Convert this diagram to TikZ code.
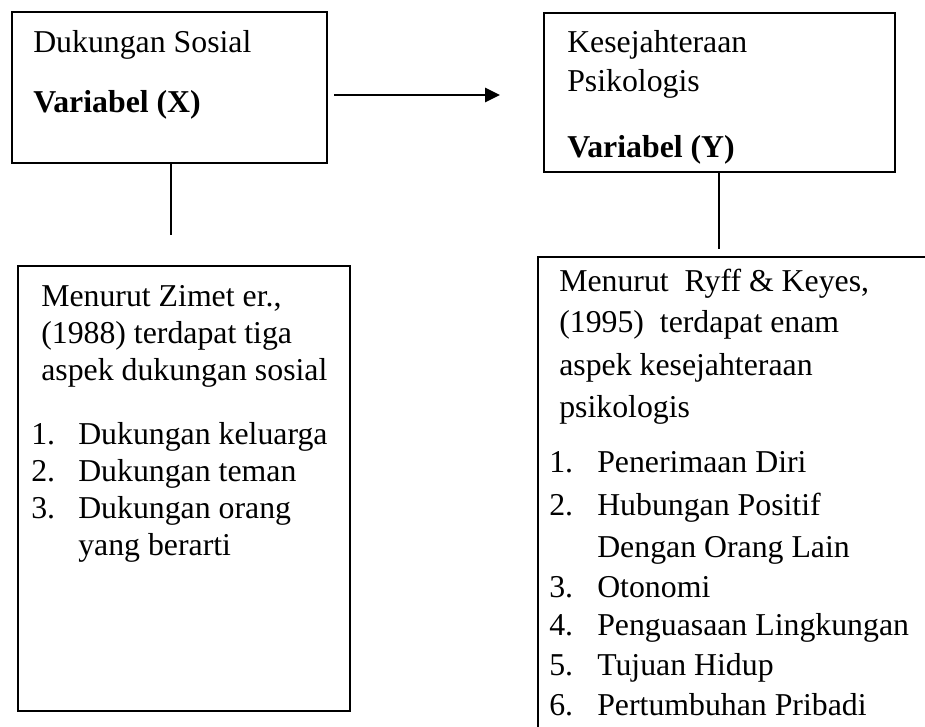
\documentclass[tikz,border=0pt]{standalone}
\usepackage{fontspec}
\setmainfont{Liberation Serif}
\usetikzlibrary{arrows.meta}
\begin{document}
\begin{tikzpicture}[x=0.75pt,y=-0.75pt,
  font=\fontsize{23.85}{28}\selectfont,
  box/.style={draw, line width=1.1pt, rectangle, inner sep=0pt},
  txt/.style={anchor=base west, inner sep=0pt},
  link/.style={line width=1.1pt},
  arr/.style={line width=2pt, -{Triangle[length=11.25pt,width=10.5pt]}}]
\useasboundingbox (0,0) rectangle (925,727);
\clip (0,0) rectangle (925,727);
\fill[white] (0,0) rectangle (925,727);

% boxes
\node[box, minimum width=236.25pt, minimum height=113.25pt] (b1) at (169.5,87.5) {};
\node[box, minimum width=263.25pt, minimum height=119.25pt] (b2) at (719.5,92.5) {};
\node[box, minimum width=249pt, minimum height=333.75pt] (b3) at (184,488.5) {};
\node[box, minimum width=305.25pt, minimum height=366pt] (b4) at (741.5,501) {};

% connectors
\coordinate (e1) at (171,235);
\coordinate (e2) at (719,249);
\draw[link] (e1 |- b1.south) -- (e1);
\draw[link] (e2 |- b2.south) -- (e2);
\coordinate (as) at (334,95);
\coordinate (ae) at (500,95);
\draw[arr] (as) -- (ae);

% box 1 text
\node[txt] (t1a) at (33,53) {Dukungan Sosial};
\node[txt] (t1b) at (33,113) {\textbf{Variabel (X)}};

% box 2 text
\node[txt] (t2a) at (567,53) {Kesejahteraan};
\node[txt] (t2b) at (567,92) {Psikologis};
\node[txt] (t2c) at (567,158) {\textbf{Variabel (Y)}};

% box 3 text
\node[txt] (t3a) at (41,307) {Menurut Zimet er.,};
\node[txt] (t3b) at (41,344) {(1988) terdapat tiga};
\node[txt] (t3c) at (41,381) {aspek dukungan sosial};
\node[txt] (n31) at (31,444) {1.};
\node[txt] (n32) at (31,481) {2.};
\node[txt] (n33) at (31,518) {3.};
\node[txt] (l31) at (78,444) {Dukungan keluarga};
\node[txt] (l32) at (78,481) {Dukungan teman};
\node[txt] (l33) at (78,518) {Dukungan orang};
\node[txt] (l34) at (78,555) {yang berarti};

% box 4 text
\node[txt] (t4a) at (559,292) {Menurut\ \ Ryff \& Keyes,};
\node[txt] (t4b) at (559,333) {(1995)\ \ terdapat enam};
\node[txt] (t4c) at (559,375) {aspek kesejahteraan};
\node[txt] (t4d) at (559,417) {psikologis};
\node[txt] (n41) at (549,472) {1.};
\node[txt] (n42) at (549,515) {2.};
\node[txt] (n43) at (549,597) {3.};
\node[txt] (n44) at (549,635) {4.};
\node[txt] (n45) at (549,675) {5.};
\node[txt] (n46) at (549,715) {6.};
\node[txt] (l41) at (597,472) {Penerimaan Diri};
\node[txt] (l42) at (597,515) {Hubungan Positif};
\node[txt] (l43) at (597,557) {Dengan Orang Lain};
\node[txt] (l44) at (597,597) {Otonomi};
\node[txt] (l45) at (597,635) {Penguasaan Lingkungan};
\node[txt] (l46) at (597,675) {Tujuan Hidup};
\node[txt] (l47) at (597,715) {Pertumbuhan Pribadi};
\end{tikzpicture}
\end{document}
